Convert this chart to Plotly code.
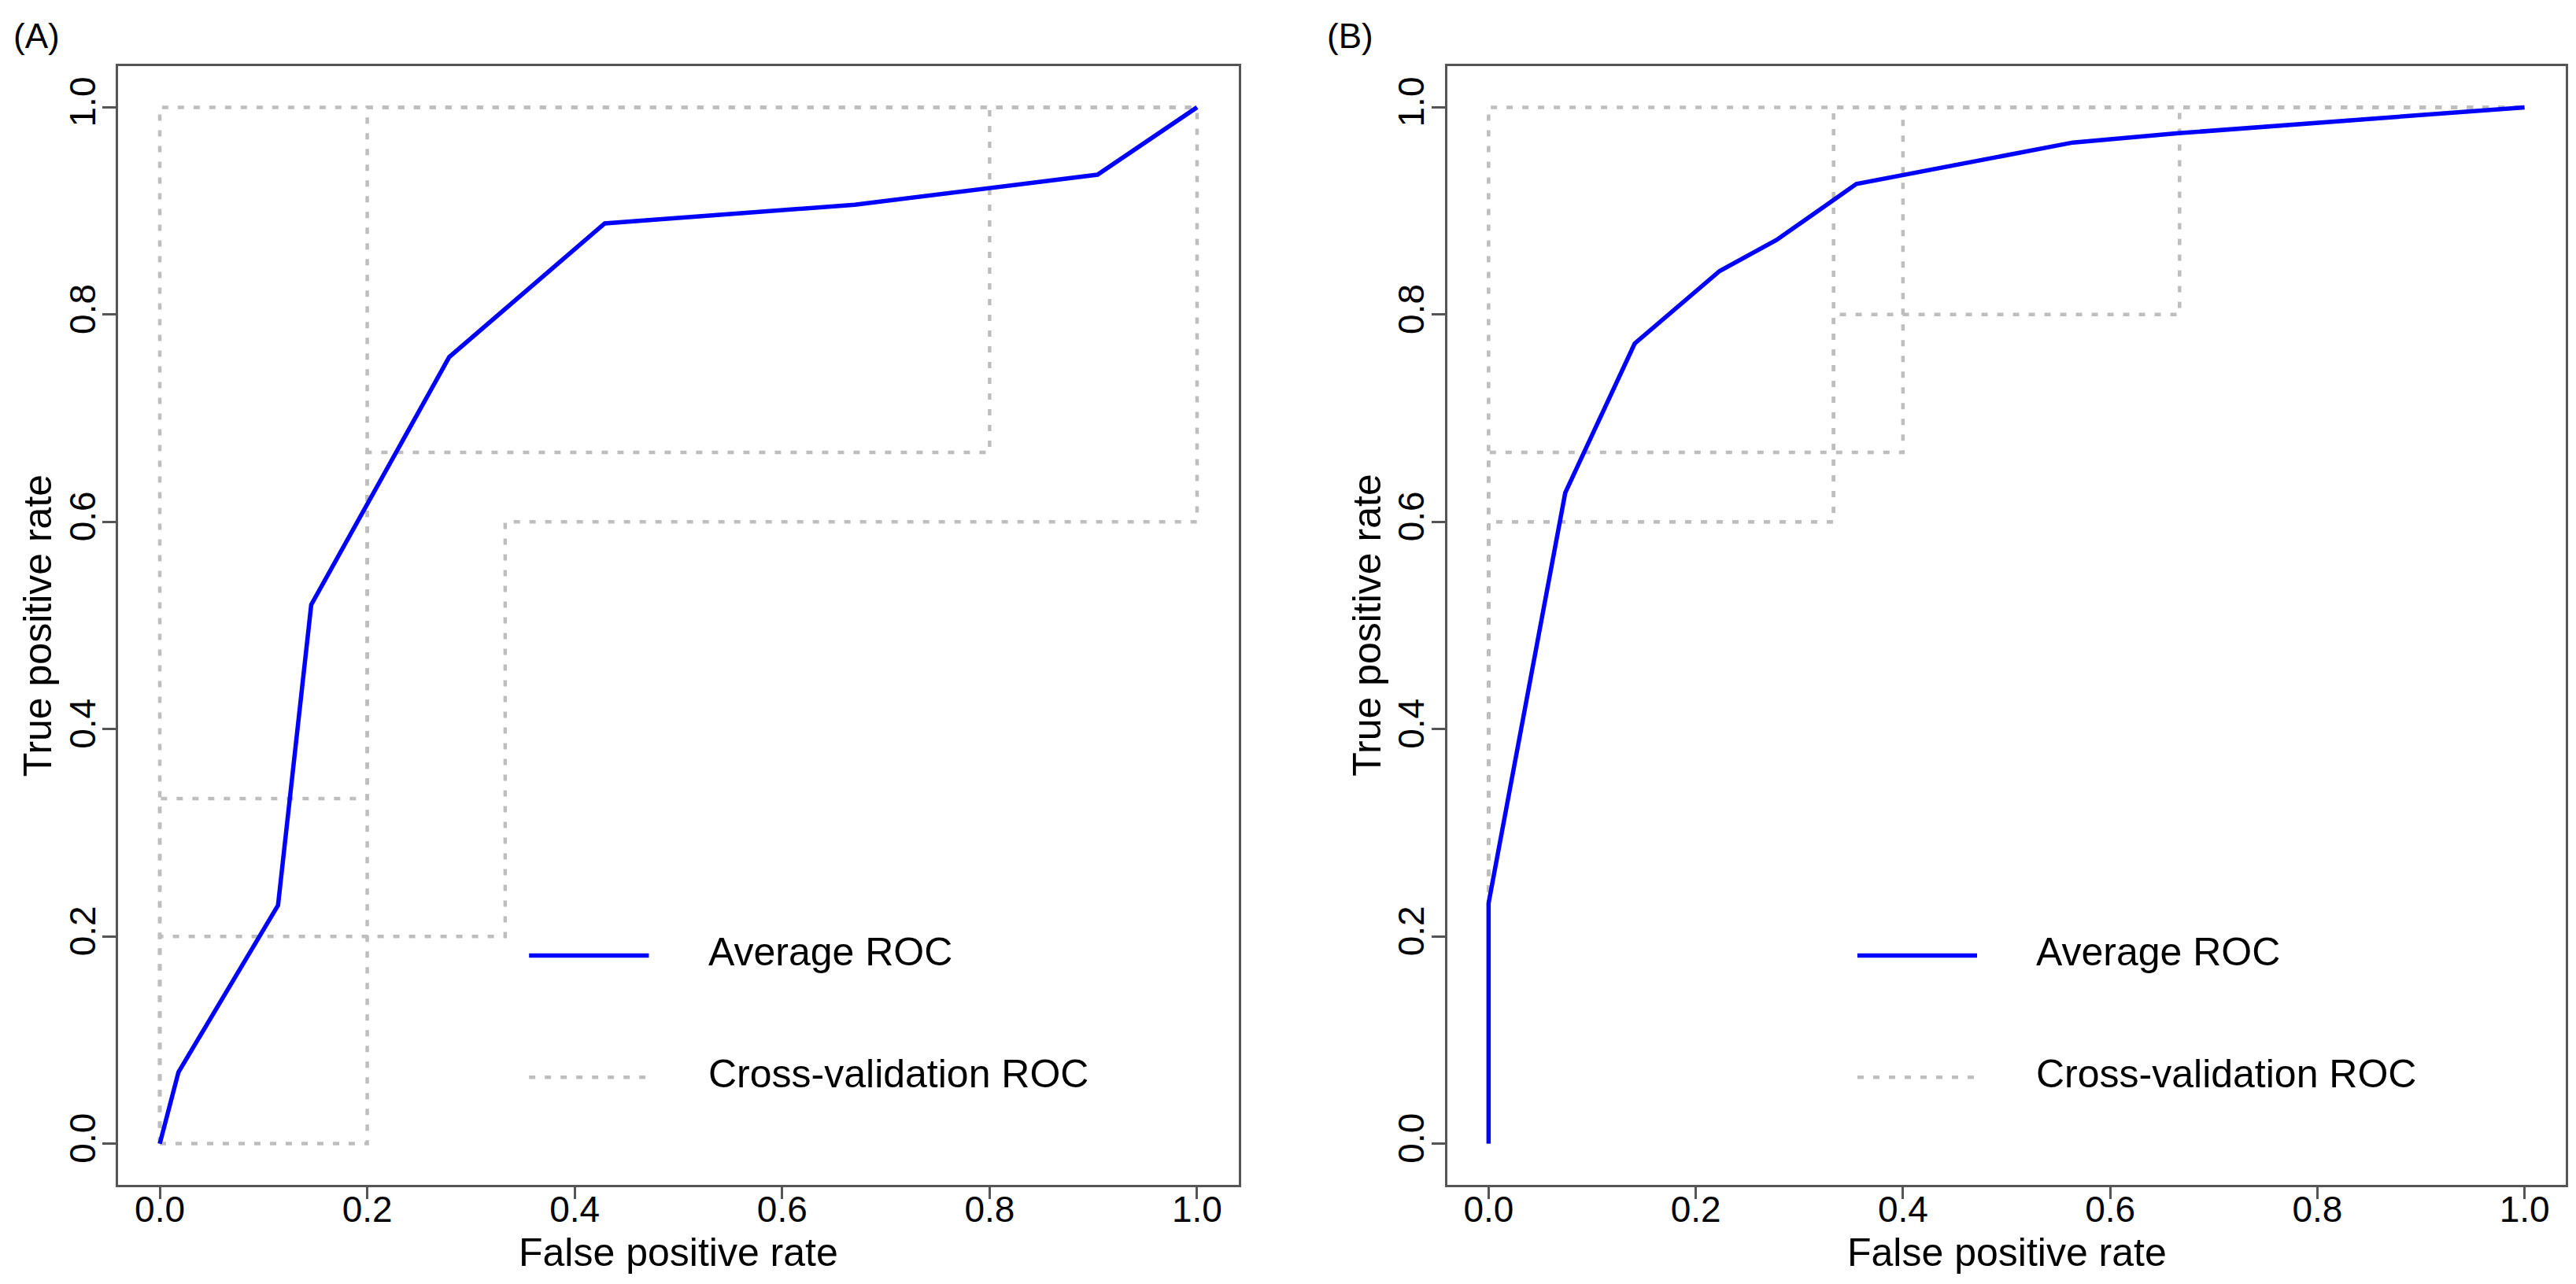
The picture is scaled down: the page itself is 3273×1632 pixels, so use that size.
import plotly.graph_objects as go

# ---------------- data ----------------
tick_vals = [0.0, 0.2, 0.4, 0.6, 0.8, 1.0]
tick_text = ["0.0", "0.2", "0.4", "0.6", "0.8", "1.0"]

# Panel A: average ROC
a_avg_fpr = [0.0, 0.018, 0.114, 0.146, 0.279, 0.429, 0.670, 0.904, 1.0]
a_avg_tpr = [0.0, 0.069, 0.230, 0.520, 0.759, 0.888, 0.906, 0.935, 1.0]

# Panel A: cross-validation ROC curves
a_cv1_fpr = [0.0, 0.2, 0.2, 1.0]
a_cv1_tpr = [0.0, 0.0, 1.0, 1.0]
a_cv2_fpr = [0.0, 0.0, 0.2, 0.2, 0.8, 0.8, 1.0]
a_cv2_tpr = [0.0, 0.333, 0.333, 0.667, 0.667, 1.0, 1.0]
a_cv3_fpr = [0.0, 0.0, 0.333, 0.333, 1.0, 1.0]
a_cv3_tpr = [0.0, 0.2, 0.2, 0.6, 0.6, 1.0]
a_cv4_fpr = [0.0, 0.0, 1.0]
a_cv4_tpr = [0.0, 1.0, 1.0]

# Panel B: average ROC
b_avg_fpr = [0.0, 0.0, 0.074, 0.141, 0.223, 0.278, 0.355, 0.564, 0.666, 1.0]
b_avg_tpr = [0.0, 0.232, 0.628, 0.772, 0.842, 0.872, 0.926, 0.966, 0.975, 1.0]

# Panel B: cross-validation ROC curves
b_cv1_fpr = [0.0, 0.0, 1.0]
b_cv1_tpr = [0.0, 1.0, 1.0]
b_cv2_fpr = [0.0, 0.0, 0.4, 0.4, 1.0]
b_cv2_tpr = [0.0, 0.667, 0.667, 1.0, 1.0]
b_cv3_fpr = [0.0, 0.0, 0.333, 0.333, 1.0]
b_cv3_tpr = [0.0, 0.6, 0.6, 1.0, 1.0]
b_cv4_fpr = [0.0, 0.0, 0.333, 0.333, 0.667, 0.667, 1.0]
b_cv4_tpr = [0.0, 0.6, 0.6, 0.8, 0.8, 1.0, 1.0]

panel_labels = ["(A)", "(B)"]
legend_labels = ["Average ROC", "Cross-validation ROC"]
x_title = "False positive rate"
y_title = "True positive rate"

# ---------------- style ----------------
W, H = 3273, 1632
FONT = "Liberation Sans, Arial, Helvetica, sans-serif"
BLUE = "#0000FF"
GREY = "#BEBEBE"
AXC = "#555555"
DOT = "8px,12px"
CV_W = 4.5
AVG_W = 5.5

fig = go.Figure()

cv_a = [(a_cv1_fpr, a_cv1_tpr), (a_cv2_fpr, a_cv2_tpr),
        (a_cv3_fpr, a_cv3_tpr), (a_cv4_fpr, a_cv4_tpr)]
cv_b = [(b_cv1_fpr, b_cv1_tpr), (b_cv2_fpr, b_cv2_tpr),
        (b_cv3_fpr, b_cv3_tpr), (b_cv4_fpr, b_cv4_tpr)]

for (xs, ys) in cv_a:
    fig.add_trace(go.Scatter(x=xs, y=ys, mode="lines", xaxis="x", yaxis="y",
                             line=dict(color=GREY, width=CV_W, dash=DOT),
                             showlegend=False, hoverinfo="skip"))
fig.add_trace(go.Scatter(x=a_avg_fpr, y=a_avg_tpr, mode="lines", xaxis="x", yaxis="y",
                         line=dict(color=BLUE, width=AVG_W), showlegend=False))

for (xs, ys) in cv_b:
    fig.add_trace(go.Scatter(x=xs, y=ys, mode="lines", xaxis="x2", yaxis="y2",
                             line=dict(color=GREY, width=CV_W, dash=DOT),
                             showlegend=False, hoverinfo="skip"))
fig.add_trace(go.Scatter(x=b_avg_fpr, y=b_avg_tpr, mode="lines", xaxis="x2", yaxis="y2",
                         line=dict(color=BLUE, width=AVG_W), showlegend=False))

# plot box geometry (pixels)
boxA = (142.3, 1565.7)
boxB = (1830.7, 3252.3)
top_px, bot_px = 75.7, 1498.3
ydom = [1 - bot_px / H, 1 - top_px / H]

common_x = dict(range=[-0.04, 1.04], tickmode="array", tickvals=tick_vals, ticktext=tick_text,
                ticks="outside", ticklen=15, tickwidth=2.5, tickcolor=AXC,
                showline=True, linecolor=AXC, linewidth=3, mirror=True,
                showgrid=False, zeroline=False, ticklabelstandoff=-27,
                tickfont=dict(family=FONT, size=46, color="black"))
common_y = dict(range=[-0.04, 1.04], tickmode="array", tickvals=tick_vals, ticktext=tick_text,
                ticks="outside", ticklen=17, tickwidth=2.5, tickcolor=AXC,
                showline=True, linecolor=AXC, linewidth=3, mirror=True,
                showgrid=False, zeroline=False, tickangle=-90, ticklabelstandoff=-9,
                tickfont=dict(family=FONT, size=46, color="black"))

fig.update_layout(
    width=W, height=H,
    margin=dict(l=0, r=0, t=0, b=0),
    paper_bgcolor="white", plot_bgcolor="white",
    showlegend=False,
    xaxis=dict(domain=[boxA[0] / W, boxA[1] / W], anchor="y", **common_x),
    yaxis=dict(domain=ydom, anchor="x", **common_y),
    xaxis2=dict(domain=[boxB[0] / W, boxB[1] / W], anchor="y2", **common_x),
    yaxis2=dict(domain=ydom, anchor="x2", **common_y),
)

# axis titles
for box in (boxA, boxB):
    fig.add_annotation(xref="paper", yref="paper", x=(box[0] + box[1]) / 2 / W, y=1 - 1584 / H,
                       text=x_title, showarrow=False, xanchor="center", yanchor="middle",
                       font=dict(family=FONT, size=50, color="black"))
    fig.add_annotation(xref="paper", yref="paper", x=(box[0] - 102) / W,
                       y=1 - (top_px + bot_px) / 2 / H,
                       text=y_title, showarrow=False, textangle=-90,
                       xanchor="center", yanchor="middle",
                       font=dict(family=FONT, size=50, color="black"))

# manual legends inside each panel
leg_x0, leg_x1, leg_tx = 0.356, 0.4715, 0.527
leg_y = [0.1816, 0.064]
leg_ty = [0.185, 0.067]
for xr, yr in [("x", "y"), ("x2", "y2")]:
    fig.add_shape(type="line", xref=xr, yref=yr, x0=leg_x0, x1=leg_x1, y0=leg_y[0], y1=leg_y[0],
                  line=dict(color=BLUE, width=AVG_W))
    fig.add_shape(type="line", xref=xr, yref=yr, x0=leg_x0, x1=leg_x1, y0=leg_y[1], y1=leg_y[1],
                  line=dict(color=GREY, width=CV_W, dash=DOT))
    for lbl, yy in zip(legend_labels, leg_ty):
        fig.add_annotation(xref=xr, yref=yr, x=leg_tx, y=yy, text=lbl, showarrow=False,
                           xanchor="left", yanchor="middle",
                           font=dict(family=FONT, size=50, color="black"))

# panel labels
for lbl, px in zip(panel_labels, [7, 1676]):
    fig.add_annotation(xref="paper", yref="paper", x=px / W, y=1 - 37 / H, text=lbl,
                       showarrow=False, xanchor="left", yanchor="middle",
                       font=dict(family=FONT, size=44, color="black"))

fig.write_html("out.html")
